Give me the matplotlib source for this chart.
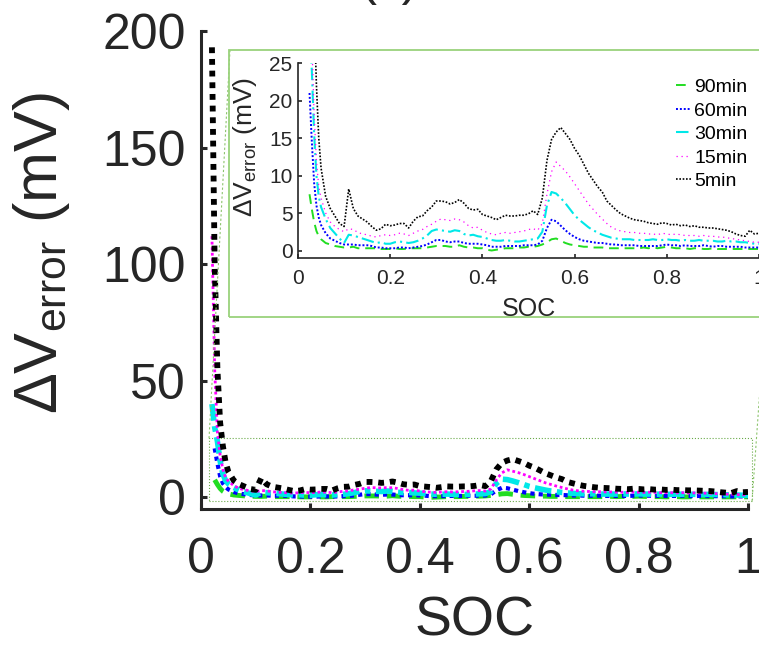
import matplotlib.pyplot as plt
import numpy as np
from matplotlib.patches import Rectangle
from matplotlib.lines import Line2D

plt.rcParams['font.family'] = ['Liberation Sans', 'DejaVu Sans']
plt.rcParams['mathtext.fontset'] = 'custom'
plt.rcParams['mathtext.rm'] = 'Liberation Sans'
plt.rcParams['mathtext.it'] = 'Liberation Sans:italic'

# %% DATA
# dense sampling at low SOC, then 1 % steps
soc = np.concatenate([[0.02, 0.025, 0.03, 0.035, 0.04, 0.045],
                      np.round(np.arange(0.05, 1.0001, 0.01), 2)])

labels = ['90min', '60min', '30min', '15min', '5min']

v_90min = [np.nan, 7.5, 5.5, 3.8, 2.6, 1.9,
           1.5, 1.0, 0.8, 0.6, 0.5, 0.4, 0.4, 0.5, 0.3, 0.3,
           0.3, 0.3, 0.3, 0.2, 0.2, 0.2, 0.3, 0.2, 0.2, 0.3,
           0.3, 0.3, 0.3, 0.4, 0.5, 0.6, 0.6, 0.6, 0.5, 0.5,
           0.7, 0.5, 0.4, 0.4, 0.3, 0.3, 0.1, 0.0, 0.1, 0.2,
           0.3, 0.3, 0.3, 0.4, 0.4, 0.5, 0.5, 0.6, 0.8, 1.1,
           1.5, 1.6, 1.3, 1.0, 0.8, 0.7, 0.6, 0.5, 0.5, 0.4,
           0.4, 0.4, 0.3, 0.3, 0.3, 0.3, 0.3, 0.3, 0.3, 0.3,
           0.4, 0.3, 0.4, 0.3, 0.4, 0.5, 0.4, 0.3, 0.3, 0.3,
           0.2, 0.3, 0.3, 0.2, 0.2, 0.3, 0.2, 0.2, 0.2, 0.2,
           0.2, 0.2, 0.2, 0.2, 0.2, 0.2]

v_60min = [np.nan, 21.0, 14.5, 9.0, 6.0, 4.4,
           3.4, 2.3, 1.6, 1.3, 1.0, 0.8, 0.8, 0.8, 0.7, 0.7,
           0.7, 0.6, 0.4, 0.4, 0.3, 0.3, 0.3, 0.4, 0.4, 0.3,
           0.4, 0.5, 0.6, 0.8, 1.1, 1.4, 1.4, 1.2, 1.1, 1.2,
           1.2, 1.0, 0.9, 0.9, 0.9, 0.8, 0.7, 0.5, 0.5, 0.5,
           0.6, 0.6, 0.6, 0.6, 0.7, 0.7, 0.7, 0.8, 1.3, 3.0,
           4.1, 3.9, 3.3, 2.7, 2.2, 1.8, 1.5, 1.3, 1.2, 1.1,
           1.0, 1.0, 0.9, 0.8, 0.8, 0.7, 0.7, 0.7, 0.7, 0.6,
           0.6, 0.6, 0.6, 0.6, 0.7, 0.8, 0.7, 0.7, 0.6, 0.7,
           0.6, 0.6, 0.6, 0.7, 0.6, 0.5, 0.6, 0.6, 0.5, 0.5,
           0.5, 0.5, 0.4, 0.4, 0.4, 0.4]

v_30min = [40.0, 30.0, 24.0, 15.5, 10.0, 7.2,
           5.8, 4.2, 3.0, 2.3, 1.6, 1.0, 2.1, 2.0, 1.8, 1.6,
           1.4, 1.2, 1.0, 1.1, 0.9, 0.9, 1.1, 1.2, 1.1, 1.0,
           1.1, 1.3, 1.6, 2.0, 2.6, 2.8, 2.7, 2.6, 2.5, 2.7,
           2.6, 2.2, 2.0, 2.1, 1.9, 1.8, 1.6, 1.4, 1.3, 1.3,
           1.4, 1.3, 1.2, 1.2, 1.3, 1.4, 1.5, 1.6, 2.5, 6.0,
           7.8, 7.6, 7.0, 6.3, 5.5, 4.7, 4.1, 3.6, 3.1, 2.7,
           2.4, 2.1, 1.9, 1.7, 1.6, 1.5, 1.5, 1.5, 1.4, 1.4,
           1.4, 1.4, 1.5, 1.4, 1.4, 1.5, 1.4, 1.4, 1.3, 1.4,
           1.3, 1.3, 1.4, 1.3, 1.3, 1.3, 1.2, 1.2, 1.3, 1.2,
           1.2, 1.1, 1.1, 1.0, 0.9, 0.9]

v_15min = [112.0, 55.0, 28.0, 18.0, 12.0, 8.5,
           7.0, 5.0, 3.8, 3.2, 2.8, 2.5, 2.9, 2.8, 2.4, 2.2,
           2.1, 1.9, 1.8, 2.0, 2.1, 2.0, 2.1, 2.3, 2.2, 2.0,
           2.3, 2.6, 2.8, 3.2, 3.5, 3.9, 4.2, 4.1, 4.0, 4.2,
           4.1, 3.8, 3.3, 3.0, 3.1, 2.7, 2.4, 2.2, 2.1, 2.3,
           2.4, 2.3, 2.4, 2.5, 2.6, 2.8, 2.9, 2.7, 3.6, 7.5,
           10.5, 11.8, 11.2, 10.6, 9.8, 8.9, 8.0, 7.1, 6.2, 5.5,
           4.8, 4.2, 3.6, 3.1, 2.8, 2.6, 2.5, 2.4, 2.4, 2.3,
           2.3, 2.2, 2.2, 2.1, 2.3, 2.2, 2.1, 2.2, 2.1, 2.0,
           2.0, 2.0, 1.9, 2.0, 1.9, 1.9, 1.8, 1.8, 1.7, 1.6,
           1.5, 1.4, 1.3, 1.2, 1.1, 1.1]

v_5min = [193.0, 100.0, 55.0, 32.0, 22.0, 15.0,
          11.0, 7.2, 5.6, 4.6, 3.6, 3.2, 8.2, 5.6, 4.6, 4.2,
          3.8, 3.2, 2.7, 2.9, 3.5, 3.3, 3.4, 3.6, 3.6, 3.0,
          3.9, 4.5, 4.6, 5.3, 5.8, 6.6, 6.6, 6.5, 6.2, 6.4,
          6.8, 6.3, 5.6, 5.4, 5.5, 4.8, 4.6, 4.4, 4.1, 4.4,
          4.7, 4.6, 4.6, 4.7, 4.7, 4.9, 5.3, 4.8, 7.0, 12.0,
          14.8, 15.8, 16.4, 15.6, 14.8, 13.6, 12.7, 11.5, 10.3, 9.4,
          8.5, 7.8, 6.6, 6.0, 5.4, 4.9, 4.6, 4.3, 4.1, 4.0,
          3.9, 3.7, 3.6, 3.5, 3.7, 3.6, 3.4, 3.5, 3.3, 3.4,
          3.2, 3.3, 3.1, 3.1, 3.0, 3.0, 2.9, 2.8, 2.7, 2.5,
          2.2, 2.0, 1.9, 2.7, 2.2, 2.3]

series = [v_90min, v_60min, v_30min, v_15min, v_5min]
colors = ['#22dd22', '#0000ff', '#00e8e8', '#ff00ff', '#000000']

# line styles: (main axes, inset)
main_styles = [(3.5, (0, (3, 1.6))), (3.0, (0, (1, 1))),
               (4.0, (0, (3, 1, 1, 1))), (2.0, (0, (1, 1))),
               (4.2, (0, (1, 1)))]
inset_styles = [(1.4, (0, (5, 3))), (1.4, (0, (1, 1))),
                (1.5, (0, (6, 2, 1, 2))), (0.9, (0, (1, 3))),
                (1.2, (0, (1, 1)))]

W, H = 759, 651
axis_col = '#262626'


def px(x, y):
    # pixel position -> figure fraction
    return x / W, 1 - y / H


def style_axis(ax, lw, ticklen, size, pad_x, pad_y):
    for s in ['top', 'right']:
        ax.spines[s].set_visible(False)
    for s in ['left', 'bottom']:
        ax.spines[s].set_linewidth(lw)
        ax.spines[s].set_color(axis_col)
    ax.tick_params(direction='in', length=ticklen, width=lw, colors=axis_col,
                   labelsize=size)
    ax.tick_params(axis='x', pad=pad_x)
    ax.tick_params(axis='y', pad=pad_y)


fig = plt.figure(figsize=(W / 100, H / 100), dpi=100)

# %% MAIN AXES
ax = fig.add_axes([201 / W, 1 - 509 / H, (748 - 201) / W, (509 - 31) / H])
for v, c, (lw, ls) in zip(series, colors, main_styles):
    ax.plot(soc, v, color=c, lw=lw, linestyle=ls)
ax.set_xlim(0, 1)
ax.set_ylim(-5, 200)
ax.set_xticks([0, 0.2, 0.4, 0.6, 0.8, 1])
ax.set_xticklabels(['0', '0.2', '0.4', '0.6', '0.8', '1'])
ax.set_yticks([0, 50, 100, 150, 200])
style_axis(ax, 2.2, 4, 36, 20, 11)
ax.set_xlabel('SOC', fontsize=40, color=axis_col)
ax.set_ylabel(r'$\Delta$V$_{\mathrm{error}}$ (mV)', fontsize=44,
              color=axis_col)
ax.xaxis.set_label_coords(0.5, -0.182)
ax.yaxis.set_label_coords(-0.235, 0.535)

# zoom window on the main axes
ax.add_patch(Rectangle((0.015, -1.5), 0.993, 26.8, fill=False,
                       edgecolor='#6aaa4a', lw=0.8, linestyle=':',
                       clip_on=False))

# title sits mostly above the canvas
fig.text(0.513, 1 + 6 / H, '(c)', ha='center', va='baseline', fontsize=37,
         color=axis_col)

# %% INSET
box_x0, box_y0 = px(229.5, 317)
box_x1, box_y1 = px(766, 50)
fig.patches.append(Rectangle((box_x0, box_y0), box_x1 - box_x0,
                             box_y1 - box_y0, transform=fig.transFigure,
                             fill=False, edgecolor='#9ad27c', lw=1.3,
                             clip_on=False, zorder=3))
for (xa, ya), (xb, yb) in [((230, 50), (209, 439)), ((765, 317), (752, 502))]:
    p0, p1 = px(xa, ya), px(xb, yb)
    fig.lines.append(Line2D([p0[0], p1[0]], [p0[1], p1[1]],
                            transform=fig.transFigure, color='#8cc46c',
                            lw=0.8, linestyle=(0, (2, 2))))

ax2 = fig.add_axes([298 / W, 1 - 258 / H, (759 - 298) / W, (258 - 63) / H])
for v, c, lab, (lw, ls) in zip(series, colors, labels, inset_styles):
    ax2.plot(soc, v, color=c, lw=lw, linestyle=ls, label=lab)
ax2.set_xlim(0, 1)
ax2.set_ylim(-1, 25)
ax2.set_xticks([0, 0.2, 0.4, 0.6, 0.8, 1])
ax2.set_xticklabels(['0', '0.2', '0.4', '0.6', '0.8', '1'])
ax2.set_yticks([0, 5, 10, 15, 20, 25])
style_axis(ax2, 1.2, 3, 15, 8, 4)
ax2.set_xlabel('SOC', fontsize=18, color=axis_col)
ax2.set_ylabel(r'$\Delta$V$_{\mathrm{error}}$ (mV)', fontsize=19,
               color=axis_col)
ax2.xaxis.set_label_coords(0.5, -0.2)
ax2.yaxis.set_label_coords(-0.085, 0.57)
ax2.legend(loc='upper right', bbox_to_anchor=(1.0, 0.98), frameon=False,
           fontsize=14, handlelength=0.8, handletextpad=0.15,
           labelspacing=0.3, borderaxespad=0.2)

fig.savefig('out.png', dpi=100)
